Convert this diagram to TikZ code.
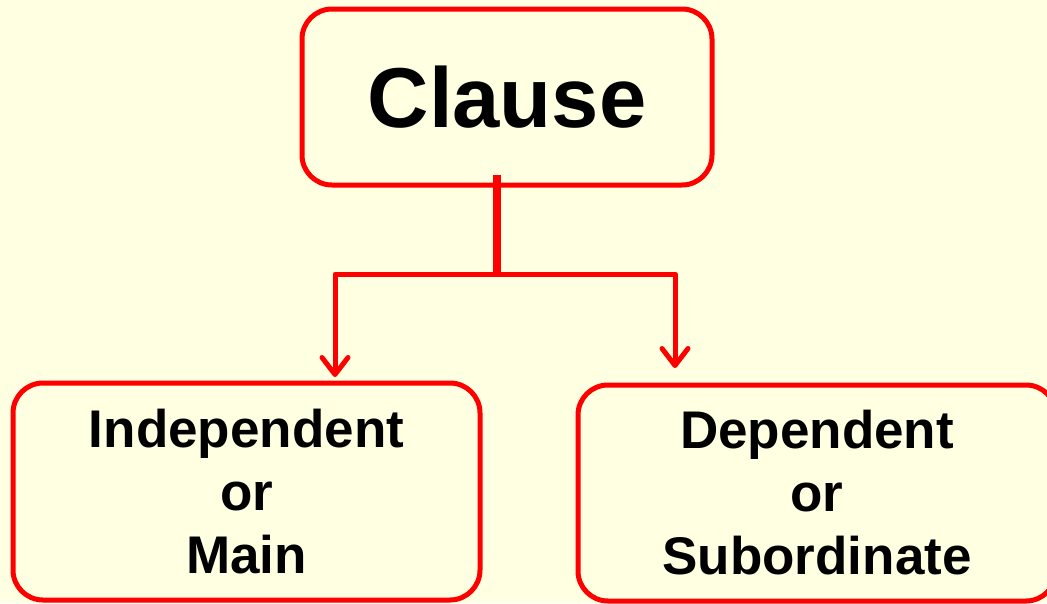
\documentclass[tikz,border=0pt]{standalone}
\usepackage{fontspec}
\setmainfont{Liberation Sans}
\usetikzlibrary{arrows.meta}
\definecolor{bg}{HTML}{FFFFE1}
\definecolor{rd}{HTML}{FF0000}
\begin{document}
\begin{tikzpicture}[x=1pt,y=-1pt,
  box/.style={draw=rd, line width=5pt, fill=bg, rounded corners=30pt, inner sep=0pt, align=center, font=\bfseries},
  link/.style={draw=rd, line width=5pt, line join=round},
  arr/.style={link, -{Straight Barb[length=17pt,width=26pt,line cap=round,line join=round]}}]
\fill[bg] (0,0) rectangle (1047,603);
\useasboundingbox (0,0) rectangle (1047,603);
\begin{scope}
\clip (0,0) rectangle (1047,603);
\node[box, minimum width=410pt, minimum height=176pt, font=\fontsize{85}{85}\selectfont\bfseries] (clause) at (507,97) {Clause};
\node[box, minimum width=467pt, minimum height=217pt, font=\fontsize{53}{63}\selectfont\bfseries] (ind) at (246.5,491.5) {Independent\\or\\Main};
\node[box, minimum width=478pt, minimum height=216pt, font=\fontsize{53}{63}\selectfont\bfseries] (dep) at (817,493) {Dependent\\or\\Subordinate};
\end{scope}
\coordinate (j) at (497,274);
\coordinate (tipL) at (335,377);
\coordinate (tipR) at (675,368);
\draw[link, line width=8pt] ([yshift=13pt]clause.south -| j) -- (j);
\draw[arr] (j) -| (tipL);
\draw[arr] (j) -| (tipR);
\end{tikzpicture}
\end{document}
